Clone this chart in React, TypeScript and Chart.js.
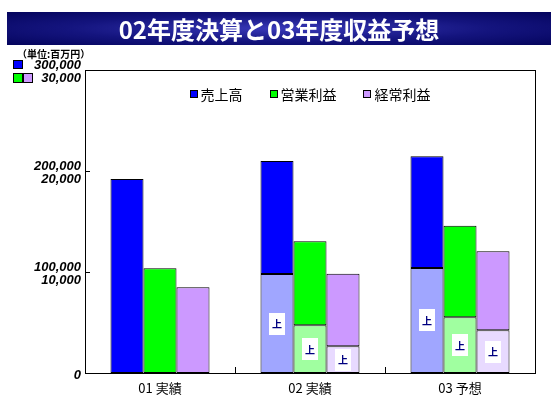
import React, { useEffect, useRef } from 'react';
import { Chart, registerables } from 'chart.js';

Chart.register(...registerables);

const titleText = '02年度決算と03年度収益予想';
const unitLabel = '（単位:百万円）';
const halfLabel = '上';
const categories = ['01 実績', '02 実績', '03 予想'];
const seriesNames = ['売上高', '営業利益', '経常利益'];
const salesFull = [192000, 210000, 214500];
const salesFirstHalf = [null, 98000, 104000];
const opFull = [10370, 13040, 14580];
const opFirstHalf = [null, 4720, 5510];
const ordFull = [8490, 9830, 12050];
const ordFirstHalf = [null, 2640, 4230];
const salesTicks = [0, 100000, 200000, 300000];
const profitTicks = [0, 10000, 20000, 30000];

const darkColors = ['#0000FF', '#00FF00', '#CC99FF'];
const lightColors = ['#A0A6FF', '#A0FFA0', '#E8DAFF'];

const JP = '"Noto Sans CJK JP", "Noto Sans", sans-serif';
const fmt = (v: number) => v.toLocaleString('en-US');

function makePair(name: string, full: number[], half: (number | null)[], idx: number, axis: string) {
  return [
    {
      label: name,
      data: full.map((f, i) => [half[i] ?? 0, f]),
      backgroundColor: darkColors[idx],
      borderColor: '#000000',
      borderWidth: 1,
      borderSkipped: false,
      stack: 's' + idx,
      yAxisID: axis,
      isHalf: false,
    },
    {
      label: name + halfLabel,
      data: half.map((h) => (h == null ? null : [0, h])),
      backgroundColor: lightColors[idx],
      borderColor: '#000000',
      borderWidth: 1,
      borderSkipped: false,
      stack: 's' + idx,
      yAxisID: axis,
      isHalf: true,
    },
  ];
}

const decorPlugin = {
  id: 'decor',
  afterDatasetsDraw(chart: any) {
    const { ctx, chartArea: a, scales } = chart;
    ctx.save();
    // half-year labels
    chart.data.datasets.forEach((ds: any, di: number) => {
      if (!ds.isHalf) return;
      const meta = chart.getDatasetMeta(di);
      meta.data.forEach((el: any, i: number) => {
        if (ds.data[i] == null) return;
        const { x, y, base } = el.getProps(['x', 'y', 'base'], true);
        const cy = (y + base) / 2;
        ctx.fillStyle = '#FFFFFF';
        ctx.fillRect(Math.round(x - 8), Math.round(cy - 11), 16, 22);
        ctx.fillStyle = '#000080';
        ctx.font = 'bold 10px ' + JP;
        ctx.textAlign = 'center';
        ctx.textBaseline = 'middle';
        ctx.fillText(halfLabel, x, cy + 1);
      });
    });
    // frame
    ctx.strokeStyle = '#000000';
    ctx.lineWidth = 1;
    ctx.strokeRect(Math.round(a.left) + 0.5, Math.round(a.top) + 0.5, Math.round(a.right - a.left), Math.round(a.bottom - a.top));
    // inner ticks on y
    const ys = scales.y;
    ctx.beginPath();
    salesTicks.forEach((v) => {
      const py = Math.round(ys.getPixelForValue(v)) + 0.5;
      ctx.moveTo(a.left, py);
      ctx.lineTo(a.left + 5, py);
    });
    // inner ticks on x at category boundaries
    const xs = scales.x;
    for (let i = 1; i < categories.length; i++) {
      const px = Math.round((xs.getPixelForValue(i - 1) + xs.getPixelForValue(i)) / 2) + 0.5;
      ctx.moveTo(px, a.bottom);
      ctx.lineTo(px, a.bottom - 6);
    }
    ctx.stroke();
    ctx.restore();
  },
  afterDraw(chart: any) {
    const { ctx, chartArea: a, scales } = chart;
    ctx.save();
    // legend
    ctx.font = '14px ' + JP;
    ctx.textBaseline = 'middle';
    ctx.textAlign = 'left';
    const box = 8;
    const gapText = 3;
    const gapItem = 27;
    const widths = seriesNames.map((n) => box + gapText + ctx.measureText(n).width);
    const total = widths.reduce((s, w) => s + w, 0) + gapItem * (widths.length - 1);
    let lx = (a.left + a.right) / 2 - total / 2;
    const ly = a.top + 24;
    seriesNames.forEach((n, i) => {
      ctx.fillStyle = darkColors[i];
      ctx.fillRect(Math.round(lx), Math.round(ly - box / 2), box, box);
      ctx.strokeStyle = '#000000';
      ctx.lineWidth = 1;
      ctx.strokeRect(Math.round(lx) + 0.5, Math.round(ly - box / 2) + 0.5, box - 1, box - 1);
      ctx.fillStyle = '#000000';
      ctx.fillText(n, lx + box + gapText, ly + 1);
      lx += widths[i] + gapItem;
    });
    // unit label
    ctx.font = 'bold 10px ' + JP;
    ctx.fillStyle = '#000000';
    ctx.fillText(unitLabel, 17, 54);
    // axis swatches
    const yTop = Math.round(scales.y.getPixelForValue(salesTicks[salesTicks.length - 1]));
    const sw = (x: number, y: number, w: number, h: number, c: string) => {
      ctx.fillStyle = c;
      ctx.fillRect(x, y, w, h);
      ctx.strokeStyle = '#000000';
      ctx.strokeRect(x + 0.5, y + 0.5, w - 1, h - 1);
    };
    sw(13, yTop - 10, 10, 9, darkColors[0]);
    sw(13, yTop + 3, 10, 10, darkColors[1]);
    sw(23, yTop + 3, 10, 10, darkColors[2]);
    ctx.restore();
  },
};

export default function App() {
  const ref = useRef<HTMLCanvasElement | null>(null);
  useEffect(() => {
    if (!ref.current) return;
    const datasets: any[] = [
      ...makePair(seriesNames[0], salesFull, salesFirstHalf, 0, 'y'),
      ...makePair(seriesNames[1], opFull, opFirstHalf, 1, 'y2'),
      ...makePair(seriesNames[2], ordFull, ordFirstHalf, 2, 'y2'),
    ];
    const chart = new Chart(ref.current, {
      type: 'bar',
      data: { labels: categories, datasets },
      plugins: [decorPlugin],
      options: {
        responsive: false,
        animation: false,
        categoryPercentage: 0.66,
        barPercentage: 1.0,
        layout: { padding: { left: 0, top: 70, right: 23, bottom: 0 } },
        plugins: { legend: { display: false }, tooltip: { enabled: false }, title: { display: false } },
        scales: {
          x: {
            type: 'category',
            stacked: true,
            grid: { display: false, drawTicks: false },
            border: { display: false },
            ticks: { color: '#000000', font: { family: JP, size: 13 }, padding: 7 },
            afterFit: (s: any) => { s.height = 33; },
          },
          y: {
            type: 'linear',
            position: 'left',
            stacked: false,
            min: salesTicks[0],
            max: salesTicks[salesTicks.length - 1],
            grid: { display: false, drawTicks: false },
            border: { display: false },
            afterBuildTicks: (s: any) => { s.ticks = salesTicks.map((v) => ({ value: v })); },
            ticks: {
              color: '#000000',
              padding: 4,
              labelOffset: 2,
              font: { family: '"Liberation Sans", Arial, sans-serif', size: 13, style: 'italic', weight: 'bold', lineHeight: 0.95 },
              callback: (v: any, i: number) => (i === 0 ? '0' : [fmt(salesTicks[i]), fmt(profitTicks[i])]),
            },
            afterFit: (s: any) => { s.width = 85; },
          },
          y2: {
            type: 'linear',
            display: false,
            stacked: false,
            min: profitTicks[0],
            max: profitTicks[profitTicks.length - 1],
          },
        },
      } as any,
    });
    return () => chart.destroy();
  }, []);

  return (
    <div style={{ position: 'fixed', left: 0, top: 0, width: 558, height: 406, background: '#FFFFFF' }}>
      <canvas ref={ref} width={558} height={406} style={{ position: 'absolute', left: 0, top: 0, width: 558, height: 406 }} />
      <div
        style={{
          position: 'absolute',
          left: 7,
          top: 12,
          width: 544,
          height: 33,
          background: 'radial-gradient(ellipse at center, #3838B8 0%, #14147E 55%, #04045C 100%)',
          color: '#FFFFFF',
          fontFamily: JP,
          fontWeight: 'bold',
          fontSize: 24,
          display: 'flex',
          alignItems: 'center',
          justifyContent: 'center',
          lineHeight: '33px',
        }}
      >
        {titleText}
      </div>
    </div>
  );
}
